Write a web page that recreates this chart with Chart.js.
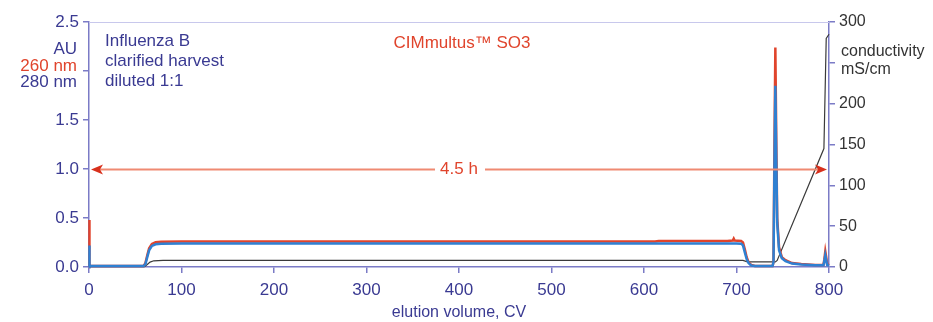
<!DOCTYPE html>
<html>
<head>
<meta charset="utf-8">
<script src="https://cdn.jsdelivr.net/npm/chart.js@4.4.1/dist/chart.umd.min.js"></script>
<style>
  html, body { margin: 0; padding: 0; background: #fff; }
  #wrap { width: 933px; height: 322px; }
</style>
</head>
<body>
<div id="wrap"><canvas id="chart" width="933" height="322"></canvas></div>
<script>
// elution volume (CV) and absorbance values
const cv260 = [0, 0, 1, 59, 61, 63, 65, 68, 72, 78, 100, 300, 612, 616, 690, 696, 697, 698, 705, 707, 709, 711, 713, 716, 720, 739, 740, 741, 742, 743, 744, 746, 749, 753, 760, 770, 785, 794, 795, 796, 797, 798, 800];
const au260 = [0, 0.48, 0.01, 0.01, 0.04, 0.12, 0.19, 0.235, 0.252, 0.258, 0.26, 0.26, 0.26, 0.266, 0.266, 0.27, 0.29, 0.27, 0.266, 0.25, 0.18, 0.1, 0.05, 0.02, 0.01, 0.01, 0.05, 1.2, 2.24, 1.3, 0.5, 0.2, 0.1, 0.07, 0.04, 0.03, 0.02, 0.02, 0.08, 0.16, 0.1, 0.03, 0.02];

const cv280 = [0, 0, 1, 59, 61, 63, 65, 68, 72, 78, 100, 700, 705, 707, 709, 711, 713, 716, 720, 739, 740, 741, 742, 743, 744, 746, 749, 753, 760, 770, 785, 794, 795, 796, 797, 798, 800];
const au280 = [0, 0.22, 0.01, 0.01, 0.03, 0.1, 0.17, 0.215, 0.232, 0.238, 0.24, 0.24, 0.238, 0.22, 0.15, 0.08, 0.04, 0.015, 0.01, 0.01, 0.05, 1.0, 1.85, 1.1, 0.45, 0.17, 0.09, 0.06, 0.035, 0.025, 0.018, 0.018, 0.06, 0.12, 0.07, 0.02, 0.015];

const cvCond = [0, 60, 63, 66, 70, 80, 700, 707, 711, 716, 742, 744, 794.5, 797, 800];
const condMs = [0.5, 0.5, 3, 6, 7.6, 8.2, 8.2, 8, 6.5, 6.2, 6.2, 8, 145, 280, 285];

const leftTicks = [0, 0.5, 1.0, 1.5, 2.0, 2.5];
const rightTicks = [0, 50, 100, 150, 200, 250, 300];

const AXIS = '#7b7bc6';
const NAVY = '#3a3a92';
const RED = '#e0442c';
const BLUE = '#2f80d2';
const FONT = '"Liberation Sans", Arial, sans-serif';

function pts(xs, ys) {
  return xs.map((x, i) => ({ x: x, y: ys[i] }));
}

const extras = {
  id: 'extras',
  afterDatasetsDraw(chart) {
    const ctx = chart.ctx;
    const a = chart.chartArea;
    const x = chart.scales.x;
    const y = chart.scales.y;
    ctx.save();

    // top frame line
    ctx.strokeStyle = '#c8c8ec';
    ctx.lineWidth = 1;
    ctx.beginPath();
    ctx.moveTo(a.left, a.top + 0.5);
    ctx.lineTo(a.right, a.top + 0.5);
    ctx.stroke();

    // 4.5 h double arrow at 1.0 AU
    const ay = Math.round(y.getPixelForValue(1.0)) + 0.5;
    const x0 = x.getPixelForValue(0), x1 = x.getPixelForValue(800);
    const mid = (x0 + x1) / 2;
    ctx.strokeStyle = '#ef8a72';
    ctx.lineWidth = 2;
    ctx.beginPath();
    ctx.moveTo(x0 + 8, ay); ctx.lineTo(mid - 24, ay);
    ctx.moveTo(mid + 26, ay); ctx.lineTo(x1 - 8, ay);
    ctx.stroke();
    ctx.fillStyle = '#d8301c';
    ctx.beginPath();
    ctx.moveTo(x0 + 2, ay); ctx.lineTo(x0 + 14, ay - 5); ctx.lineTo(x0 + 11, ay); ctx.lineTo(x0 + 14, ay + 5);
    ctx.closePath(); ctx.fill();
    ctx.beginPath();
    ctx.moveTo(x1 - 2, ay); ctx.lineTo(x1 - 14, ay - 5); ctx.lineTo(x1 - 11, ay); ctx.lineTo(x1 - 14, ay + 5);
    ctx.closePath(); ctx.fill();

    ctx.font = '17px ' + FONT;
    ctx.textBaseline = 'middle';
    ctx.textAlign = 'center';
    ctx.fillStyle = RED;
    ctx.fillText('4.5 h', mid, ay);
    ctx.fillText('CIMmultus\u2122 SO3', 462, 43);

    // sample description
    ctx.textAlign = 'left';
    ctx.fillStyle = NAVY;
    ctx.fillText('Influenza B', 105, 41);
    ctx.fillText('clarified harvest', 105, 61);
    ctx.fillText('diluted 1:1', 105, 81);

    // left axis unit labels
    ctx.textAlign = 'right';
    ctx.fillText('AU', 77, 49);
    ctx.fillStyle = RED;
    ctx.fillText('260 nm', 77, 66);
    ctx.fillStyle = NAVY;
    ctx.fillText('280 nm', 77, 82);

    // right axis unit label
    ctx.textAlign = 'left';
    ctx.fillStyle = '#333';
    ctx.font = '16px ' + FONT;
    ctx.fillText('conductivity', 841, 52);
    ctx.fillText('mS/cm', 841, 70);
    ctx.restore();
  }
};

new Chart(document.getElementById('chart'), {
  type: 'line',
  data: {
    datasets: [
      { label: '280 nm', data: pts(cv280, au280), yAxisID: 'y', borderColor: BLUE, borderWidth: 2.5, clip: 4 },
      { label: '260 nm', data: pts(cv260, au260), yAxisID: 'y', borderColor: RED, borderWidth: 2.5, clip: 4 },
      { label: 'conductivity', data: pts(cvCond, condMs), yAxisID: 'y2', borderColor: '#3a3a3a', borderWidth: 1.2, clip: 4 }
    ]
  },
  options: {
    responsive: false,
    animation: false,
    elements: { point: { radius: 0 }, line: { tension: 0 } },
    layout: { padding: { top: 22, left: 0, right: 0, bottom: 0 } },
    plugins: { legend: { display: false }, tooltip: { enabled: false } },
    scales: {
      x: {
        type: 'linear', min: 0, max: 800,
        afterFit(s) { s.height = 55; },
        ticks: { stepSize: 100, color: NAVY, font: { family: FONT, size: 17 }, padding: 7, maxRotation: 0 },
        grid: { drawOnChartArea: false, drawTicks: true, tickLength: 6, color: AXIS, lineWidth: 1.5 },
        border: { color: AXIS, width: 1.5 },
        title: { display: true, text: 'elution volume, CV', color: NAVY, font: { family: FONT, size: 16 }, padding: { top: 3, bottom: 0 } }
      },
      y: {
        type: 'linear', position: 'left', min: 0, max: 2.5,
        afterFit(s) { s.width = 89; },
        afterBuildTicks(s) { s.ticks = leftTicks.map(v => ({ value: v })); },
        ticks: {
          color: NAVY, font: { family: FONT, size: 17 }, padding: 4,
          callback: v => (v === 2 ? '' : v.toFixed(1))
        },
        grid: { drawOnChartArea: false, drawTicks: true, tickLength: 6, color: AXIS, lineWidth: 1.5 },
        border: { color: AXIS, width: 1.5 }
      },
      y2: {
        type: 'linear', position: 'right', min: 0, max: 300,
        afterFit(s) { s.width = 104; },
        afterBuildTicks(s) { s.ticks = rightTicks.map(v => ({ value: v })); },
        ticks: {
          color: '#333', font: { family: FONT, size: 16 }, padding: 4,
          callback: v => (v === 250 ? '' : String(v))
        },
        grid: { drawOnChartArea: false, drawTicks: true, tickLength: 6, color: AXIS, lineWidth: 1.5 },
        border: { color: AXIS, width: 1.5 }
      }
    }
  },
  plugins: [extras]
});
</script>
</body>
</html>
